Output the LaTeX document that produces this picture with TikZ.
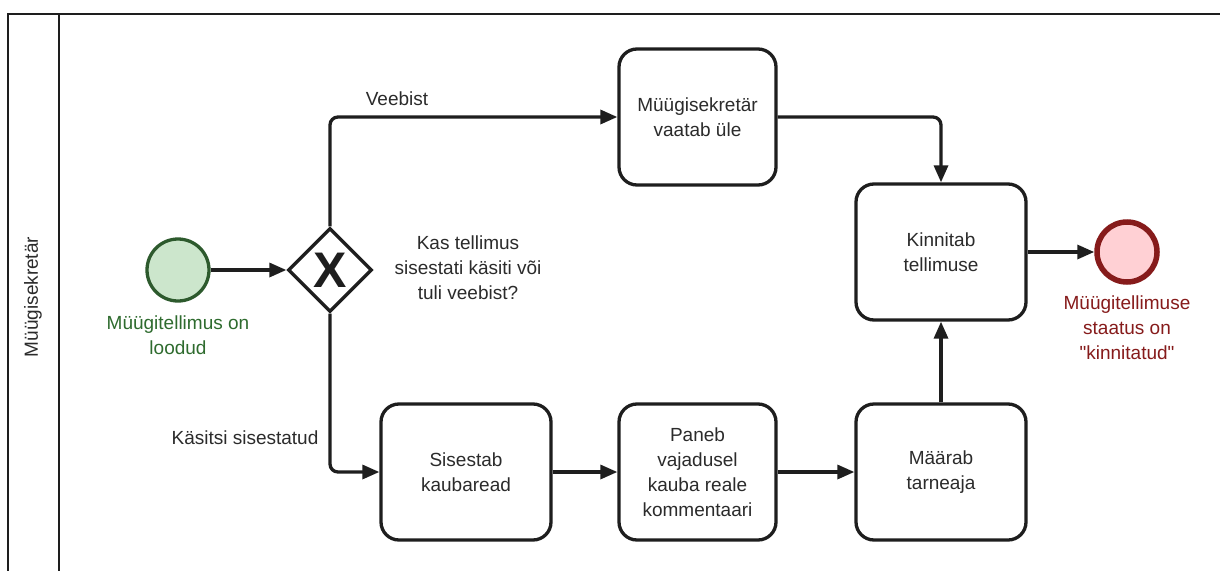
\documentclass[tikz,border=0pt]{standalone}
\usepackage{fontspec}
\setmainfont{Liberation Sans}[Ligatures=TeXOff]
\usetikzlibrary{shapes.geometric,arrows.meta}
\definecolor{linec}{HTML}{1E1E1E}
\definecolor{textc}{HTML}{2B2B2B}
\definecolor{startfill}{HTML}{CCE6CC}
\definecolor{startline}{HTML}{2D5A2D}
\definecolor{startlabel}{HTML}{2E6B2E}
\definecolor{endfill}{HTML}{FFD0D4}
\definecolor{endline}{HTML}{861B1B}
\tikzset{
  txt/.style={font=\fontsize{19}{25}\selectfont, text=textc, align=center, inner sep=0pt},
  task/.style={txt, draw=linec, line width=3.3pt, rounded corners=18pt, fill=white},
  flow/.style={draw=linec, line width=3.3pt, rounded corners=8pt, -{Triangle[length=17pt,width=14pt]}},
}
\begin{document}
\begin{tikzpicture}[x=1pt,y=-1pt]
\useasboundingbox (0,0) rectangle (1220,570);
\clip (0,0) rectangle (1220,570);
\fill[white] (0,0) rectangle (1220,570);
% pool and lane
\draw[linec, line width=2.8pt] (8,14) rectangle (1240,600);
\draw[linec, line width=2.8pt] (59,14) -- (59,600);
\node[txt, rotate=90] (lane) at (33,297) {Müügisekretär};
% events and gateway
\node[circle, draw=startline, fill=startfill, line width=3.3pt, minimum size=62pt, inner sep=0pt] (start) at (178,270) {};
\node[txt, text=startlabel] (startlbl) at (178,335) {Müügitellimus on\\loodud};
\node[diamond, draw=linec, line width=3.3pt, fill=white, minimum width=84pt, minimum height=84pt, inner sep=0pt, aspect=1] (gw) at (330,270) {};
\node[font=\bfseries\fontsize{50}{50}\selectfont, text=linec, inner sep=0pt] (gwx) at (330,270) {X};
\node[txt] (q) at (468,268) {Kas tellimus\\sisestati käsiti või\\tuli veebist?};
% tasks
\node[task, minimum width=157pt, minimum height=136pt] (t1) at (697.5,117) {Müügisekretär\\vaatab üle};
\node[task, minimum width=170pt, minimum height=136pt] (kin) at (941,252) {Kinnitab\\tellimuse};
\node[task, minimum width=170pt, minimum height=136pt] (t2) at (466,472) {Sisestab\\kaubaread};
\node[task, minimum width=157pt, minimum height=136pt] (t3) at (697.5,472) {Paneb\\vajadusel\\kauba reale\\kommentaari};
\node[task, minimum width=170pt, minimum height=136pt] (t4) at (941,472) {Määrab\\tarneaja};
\node[circle, draw=endline, fill=endfill, line width=5.5pt, minimum size=60pt, inner sep=0pt] (end) at (1127,252) {};
\node[txt, text=endline] (endlbl) at (1127,328) {Müügitellimuse\\staatus on\\"kinnitatud"};
% labels on flows
\node[txt] (veeb) at (397,99) {Veebist};
\node[txt] (kas) at (245,438) {Käsitsi sisestatud};
% flows
\draw[flow] (start) -- (gw);
\draw[flow] (gw.north) |- (t1.west);
\draw[flow] (gw.south) |- (t2.west);
\draw[flow] (t1.east) -| (kin.north);
\draw[flow] (t2) -- (t3);
\draw[flow] (t3) -- (t4);
\draw[flow] (t4) -- (kin);
\draw[flow] (kin) -- (end);
\end{tikzpicture}
\end{document}
